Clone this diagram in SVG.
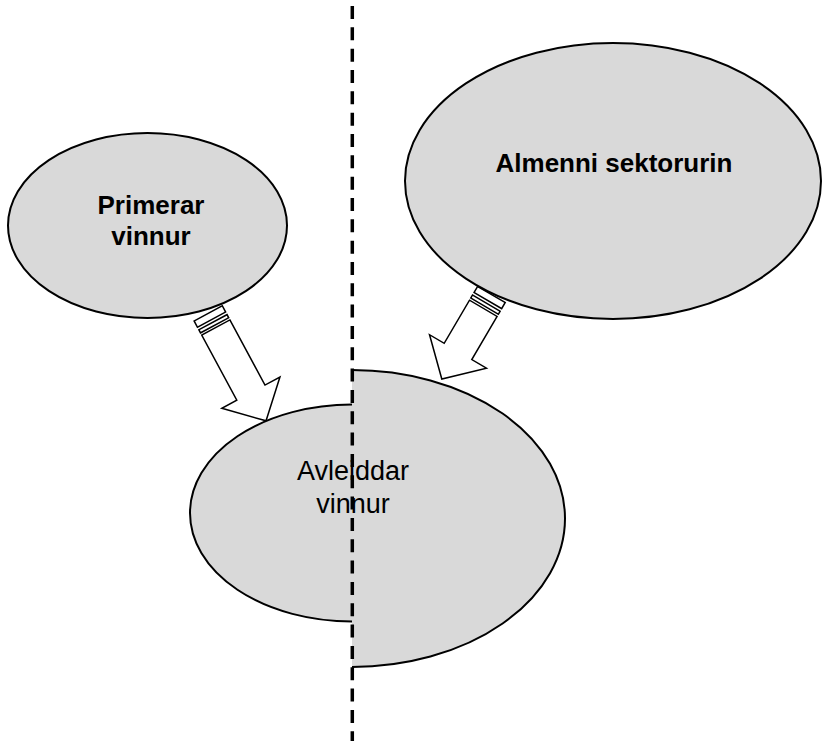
<svg xmlns="http://www.w3.org/2000/svg" width="822" height="741" viewBox="0 0 822 741">
<style>
.node{fill:#d9d9d9;stroke:#000;stroke-width:2}
.arr{fill:#fff;stroke:#000;stroke-width:1.5;stroke-linejoin:miter}
.lbl{font-family:"Liberation Sans",Arial,sans-serif;font-weight:bold;font-size:26px;fill:#000;text-anchor:middle}
.lblr{font-family:"Liberation Sans",Arial,sans-serif;font-size:27px;fill:#000;text-anchor:middle}
.divider{stroke:#000;stroke-width:3.5;stroke-dasharray:13 8.33;fill:none}
</style>
<defs>
<g id="stripes">
<rect x="-6" y="-16" width="3.5" height="32" class="arr"/>
<rect x="-16" y="-16" width="7" height="32" class="arr"/>
</g>
</defs>
<g id="connectors">
<g id="arrow-primerar" transform="translate(215.8,327.5) rotate(61.7)">
<use href="#stripes"/>
<path class="arr" d="M0,-16 L74,-16 L74,-33 L106,0 L74,33 L74,16 L0,16 Z"/>
</g>
<g id="arrow-almenni" transform="translate(483.3,308.3) rotate(120.4)">
<use href="#stripes"/>
<path class="arr" d="M0,-16 L50,-16 L50,-33 L82,0 L50,33 L50,16 L0,16 Z"/>
</g>
</g>
<g id="primerar">
<ellipse class="node" cx="147.5" cy="225.5" rx="139.5" ry="92.5"/>
<text class="lbl" x="151" y="214">Primerar</text>
<text class="lbl" x="151" y="245">vinnur</text>
</g>
<g id="almenni">
<ellipse class="node" cx="613" cy="181" rx="208" ry="138"/>
<text class="lbl" x="614" y="172">Almenni sektorurin</text>
</g>
<g id="avleiddar">
<path d="M352,370 A213,148.5 0 0 1 352,667 L352,621.5 A162,108.5 0 0 1 352,404.5 Z" fill="#d9d9d9" stroke="none"/>
<path d="M352,370 A213,148.5 0 0 1 352,667 M352,621.5 A162,108.5 0 0 1 352,404.5" fill="none" stroke="#000" stroke-width="2"/>
<text class="lblr" x="353" y="480">Avleiddar</text>
<text class="lblr" x="353" y="513">vinnur</text>
</g>
<g id="divider">
<line class="divider" x1="352.3" y1="6" x2="352.3" y2="741"/>
</g>
</svg>
